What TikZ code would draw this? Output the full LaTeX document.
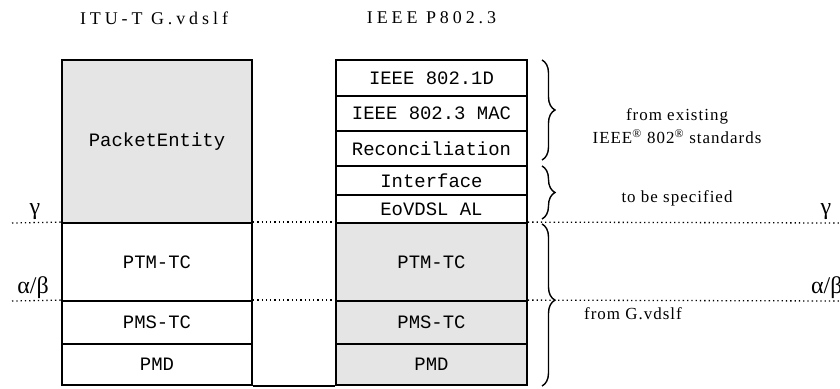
\documentclass[tikz,border=0pt]{standalone}
\usepackage{fontspec}
\setmainfont{Liberation Serif}
\newfontfamily\boxfont{Liberation Mono}
\newfontfamily\headfont[LetterSpace=22]{Liberation Serif}
\newfontfamily\notefont[LetterSpace=6]{Liberation Serif}
\usetikzlibrary{decorations.pathreplacing}
\definecolor{granite}{RGB}{229,229,229}
\begin{document}
\begin{tikzpicture}[x=1bp,y=1bp,
  layer/.style={draw=black,line width=1.8bp,inner sep=0pt,font=\boxfont\fontsize{19}{22}\selectfont},
  lcol/.style={layer,minimum width=190bp},
  rcol/.style={layer,minimum width=191bp},
  shade/.style={fill=granite},
  dots/.style={line width=1.3bp,dash pattern=on 1.3bp off 3bp},
  bracket/.style={line width=1.4bp,decorate,decoration={brace,amplitude=13bp,aspect=#1}},
  bracket/.default=0.5,
  head/.style={font=\headfont\fontsize{18}{20}\selectfont},
  note/.style={font=\notefont\fontsize{17}{23}\selectfont,align=center},
  greek/.style={font=\fontsize{24}{26}\selectfont,inner sep=0pt}]
\useasboundingbox (0,0) rectangle (840,-388);

% headers
\node[head] (hl) at (154,-18) {ITU-T G.vdslf};
\node[head] (hr) at (431.5,-18) {IEEE P802.3};

% left stack
\node[lcol,shade,minimum height=163bp] (pe) at (157,-141.5) {PacketEntity};
\node[lcol,minimum height=78bp] (lptm) at (157,-262) {PTM-TC};
\node[lcol,minimum height=43bp] (lpms) at (157,-322.5) {PMS-TC};
\node[lcol,minimum height=41bp] (lpmd) at (157,-364.5) {PMD};

% right stack
\node[rcol,minimum height=36bp] (r1) at (431.5,-78) {IEEE 802.1D};
\node[rcol,minimum height=35bp] (r2) at (431.5,-113.5) {IEEE 802.3 MAC};
\node[rcol,minimum height=35bp] (r3) at (431.5,-148.5) {Reconciliation};
\node[rcol,minimum height=29bp] (r4) at (431.5,-180.5) {Interface};
\node[rcol,minimum height=28bp] (r5) at (431.5,-209) {EoVDSL AL};
\node[rcol,shade,minimum height=78bp] (r6) at (431.5,-262) {PTM-TC};
\node[rcol,shade,minimum height=43bp] (r7) at (431.5,-322.5) {PMS-TC};
\node[rcol,shade,minimum height=41bp] (r8) at (431.5,-364.5) {PMD};

% bottom joining line
\draw[line width=1.8bp] (lpmd.south east) -- (r8.south west);

% reference lines
\coordinate (gL) at (12,-223);
\coordinate (gR) at (840,-223);
\coordinate (aL) at (12,-301);
\coordinate (aR) at (840,-301);
\draw[dots] (gL) -- (lptm.north west);
\draw[dots] (lptm.north east) -- (r6.north west);
\draw[dots] (r6.north east) -- (gR);
\draw[dots] (aL) -- (lpms.north west);
\draw[dots] (lpms.north east) -- (r7.north west);
\draw[dots] (r7.north east) -- (aR);

\node[greek] (g1) at (35,-212) {γ};
\node[greek] (a1) at (33,-288) {α/β};
\node[greek] (g2) at (826,-212) {γ};
\node[greek,anchor=west] (a2) at (811,-288) {α/β};

% braces
\coordinate (b1t) at (542,-60);
\coordinate (b1b) at (542,-160);
\coordinate (b2t) at (542,-166);
\coordinate (b2b) at (542,-219);
\coordinate (b3t) at (542,-224);
\coordinate (b3b) at (542,-386);
\draw[bracket] (b1t) -- (b1b);
\draw[bracket] (b2t) -- (b2b);
\draw[bracket=0.47] (b3t) -- (b3b);

% annotations
\node[note] (n1) at (677,-126.5) {from existing\\IEEE\textsuperscript{®} 802\textsuperscript{®} standards};
\node[note] (n2) at (677,-198) {to be specified};
\node[note] (n3) at (633,-314) {from G.vdslf};
\end{tikzpicture}
\end{document}
